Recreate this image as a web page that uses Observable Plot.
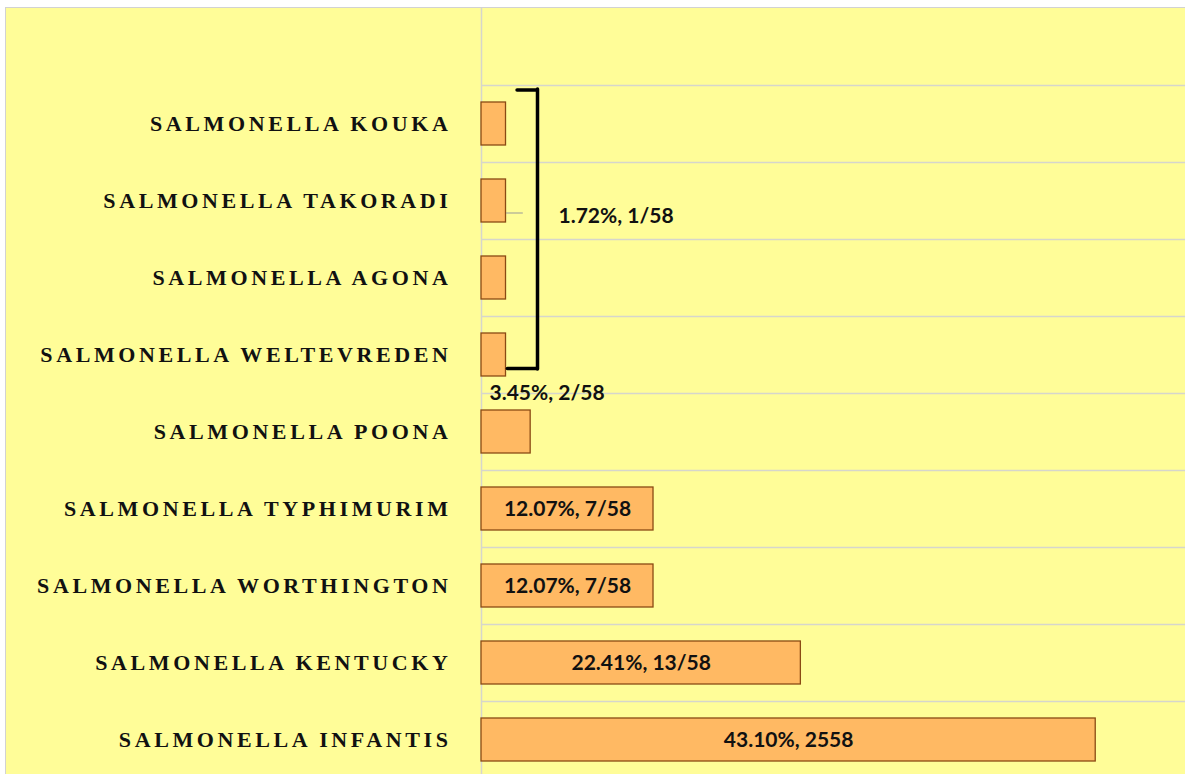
<!DOCTYPE html>
<html>
<head>
<meta charset="utf-8">
<script src="https://cdn.jsdelivr.net/npm/d3@7"></script>
<script src="https://cdn.jsdelivr.net/npm/@observablehq/plot@0.6"></script>
<style>
  html, body { margin: 0; padding: 0; background: #ffffff; overflow: hidden; }
  #wrap { position: absolute; left: 5px; top: 7px; border-top: 1px solid #d2d2d2; border-left: 1px solid #d2d2d2; }
  #wrap svg { display: block; }
  g[aria-label="y-axis tick label"] text { letter-spacing: 3.6px; }
</style>
</head>
<body>
<div id="wrap"></div>
<script>
// ---- data ----
const categories = [
  "SALMONELLA KOUKA",
  "SALMONELLA TAKORADI",
  "SALMONELLA AGONA",
  "SALMONELLA WELTEVREDEN",
  "SALMONELLA POONA",
  "SALMONELLA TYPHIMURIM",
  "SALMONELLA WORTHINGTON",
  "SALMONELLA KENTUCKY",
  "SALMONELLA INFANTIS"
];
const percents = [1.72, 1.72, 1.72, 1.72, 3.45, 12.07, 12.07, 22.41, 43.10];
const labels = [
  "1.72%, 1/58", "1.72%, 1/58", "1.72%, 1/58", "1.72%, 1/58",
  "3.45%, 2/58", "12.07%, 7/58", "12.07%, 7/58", "22.41%, 13/58", "43.10%, 2558"
];
const groupLabel = "1.72%, 1/58";     // shared label for the bracketed group
const bracketX = 3.93;                  // bracket position, in percent units
const xMax = 49.4;

const rows = categories.map((c, i) => ({category: c, pct: percents[i], label: labels[i]}));
const yDomain = [""].concat(categories);
const insideRows = rows.filter(d => d.pct > 10);
const poonaRow = rows.filter(d => d.category === "SALMONELLA POONA");

const yellow = "#FFFD98";
const grid = "#d6d6cc";
const valueFont = "Lato";
const valueSize = 21;

const chart = Plot.plot({
  width: 1179,
  height: 770,
  marginLeft: 475,
  marginRight: 0,
  marginTop: 0,
  marginBottom: 0,
  style: {background: yellow, overflow: "visible"},
  x: {domain: [0, xMax], axis: null},
  y: {domain: yDomain, paddingInner: 0.44, paddingOuter: 0.22, label: null},
  marks: [
    // horizontal grid lines at band boundaries
    Plot.ruleY(yDomain, {y: d => d, dy: 38.5, x1: 0, x2: xMax, stroke: grid, strokeWidth: 1.5}),
    // vertical axis line
    Plot.ruleX([0], {stroke: grid, strokeWidth: 1.5}),
    Plot.axisY({
      tickSize: 0,
      tickPadding: 30,
      fontSize: 22,
      fontWeight: "bold",
      fontFamily: "Liberation Serif",
      fill: "#111",
      label: null
    }),
    Plot.barX(rows, {
      y: "category", x: "pct",
      fill: "#FFB963", stroke: "#8a4a14", strokeWidth: 1.3
    }),
    // labels inside the large bars
    Plot.text(insideRows, {
      y: "category", x: d => d.pct / 2, text: "label",
      fontSize: valueSize, fontWeight: "bold", fontFamily: valueFont, fill: "#111"
    }),
    // POONA label above-left
    Plot.text(poonaRow, {
      y: "category", x: 0, text: "label", textAnchor: "start",
      dx: 8, dy: -39,
      fontSize: valueSize, fontWeight: "bold", fontFamily: valueFont, fill: "#111"
    }),
    // bracket for the 1/58 group
    Plot.ruleX([bracketX], {
      x: d => d,
      y1: () => categories[0], y2: () => categories[3],
      insetTop: -13, insetBottom: 7,
      stroke: "#000", strokeWidth: 3.5, strokeLinecap: "round"
    }),
    Plot.ruleY([categories[0]], {
      y: d => d, x1: 2.53, x2: bracketX, dy: -34,
      stroke: "#000", strokeWidth: 3.5, strokeLinecap: "round"
    }),
    Plot.ruleY([categories[3]], {
      y: d => d, x1: 1.85, x2: bracketX, dy: 13.5,
      stroke: "#000", strokeWidth: 3.5, strokeLinecap: "round"
    }),
    // small leader line from TAKORADI bar
    Plot.link([categories[1]], {
      y1: d => d, y2: d => d, x1: percents[1], x2: 2.9, dy: 12,
      stroke: "#999", strokeWidth: 1
    }),
    // group label
    Plot.text([categories[1]], {
      y: d => d, x: bracketX, text: () => groupLabel, textAnchor: "start",
      dx: 21, dy: 15,
      fontSize: valueSize, fontWeight: "bold", fontFamily: valueFont, fill: "#111"
    })
  ]
});
document.getElementById("wrap").appendChild(chart);
</script>
</body>
</html>
